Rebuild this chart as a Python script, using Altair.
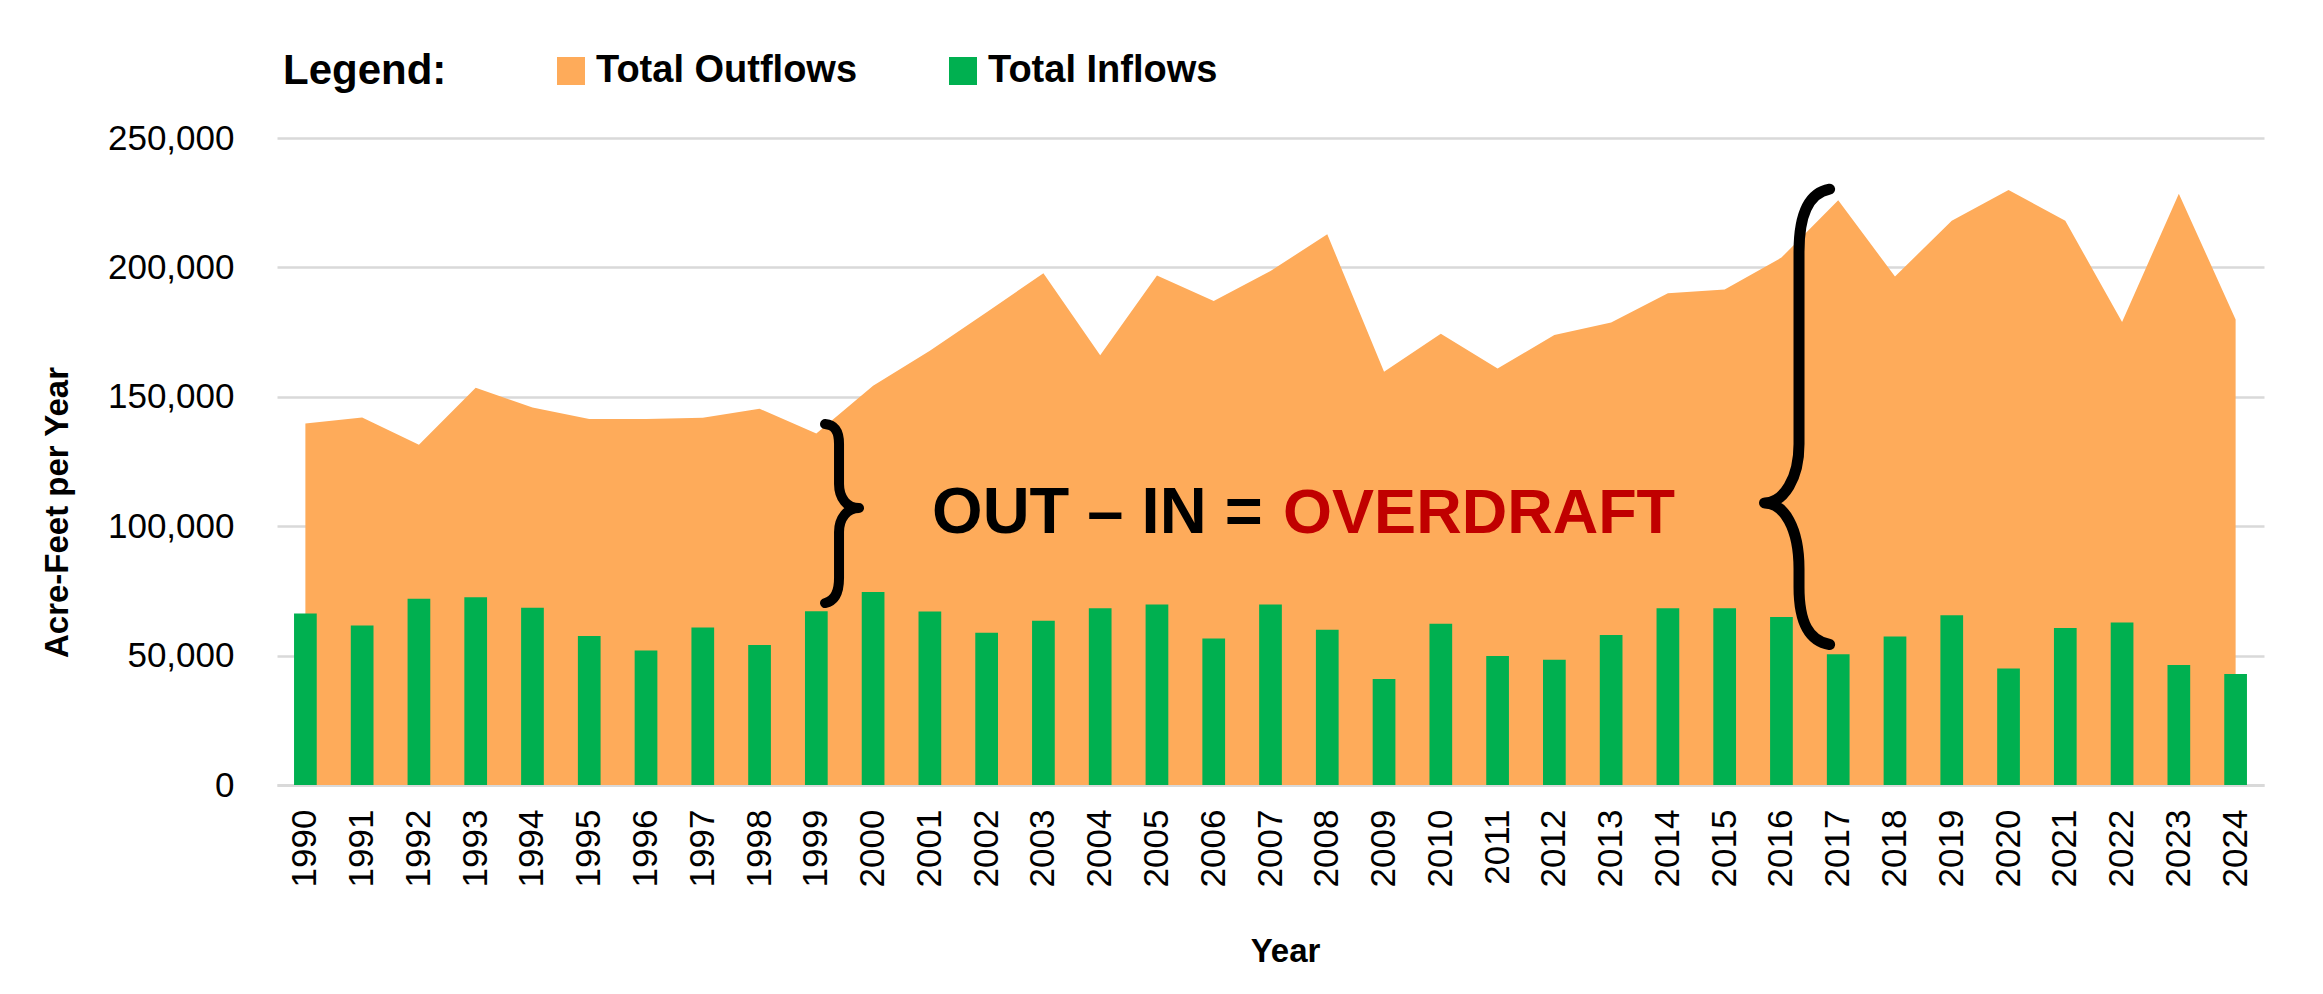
import altair as alt
import pandas as pd

# ---------------- data ----------------
years = [str(y) for y in range(1990, 2025)]
outflows = [139700, 142000, 131500, 153500, 145900, 141400, 141400, 141900, 145400, 135800,
            154300, 167800, 182700, 197700, 166100, 196900, 187000, 198600, 212800, 159700,
            174400, 160900, 173900, 178700, 190000, 191500, 203800, 225900, 196500, 218000,
            229900, 218000, 178900, 228500, 179900]
inflows = [66300, 61600, 72000, 72500, 68500, 57600, 52000, 60900, 54100, 67100,
           74600, 67000, 58800, 63500, 68300, 69700, 56600, 69700, 60000, 41000,
           62300, 49800, 48400, 58000, 68300, 68300, 64900, 50500, 57400, 65600,
           45000, 60700, 62800, 46400, 42900]
series_names = ["Total Outflows", "Total Inflows"]
series_colors = ["#FEAB5A", "#00B050"]
y_ticks = [0, 50000, 100000, 150000, 200000, 250000]

# annotation text and braces (anchored in data space)
annot_parts = ["OUT \u2013 IN = ", "OVERDRAFT"]
annot_colors = ["#000000", "#C00000"]
annot_year = ["2000"]
annot_value = [97400]
brace_years = ["1999", "2017"]
brace_values = [107000, 109000]

df = pd.DataFrame({"year": years, "outflow": outflows, "inflow": inflows})

FONT = "Liberation Sans, Arial, sans-serif"

x_scale = alt.Scale(domain=years, paddingInner=0.6, paddingOuter=0.3)
y_scale = alt.Scale(domain=[0, 250000], nice=False)

x_axis = alt.Axis(
    title="Year", labelAngle=270, labelFont=FONT, labelFontSize=35, labelColor="#000000",
    labelPadding=24, ticks=False, grid=False, domainColor="#D9D9D9", domainWidth=3,
    titleFont=FONT, titleFontSize=33, titleFontWeight="bold", titleColor="#000000",
    titleX=1008, titleY=176, titleBaseline="alphabetic",
)
y_axis = alt.Axis(
    title="Acre-Feet per Year", values=y_ticks, format=",d", labelFont=FONT, labelFontSize=35,
    labelColor="#000000", labelPadding=43, ticks=False, domain=False,
    gridColor="#D9D9D9", gridWidth=2.5,
    titleFont=FONT, titleFontSize=33, titleFontWeight="bold", titleColor="#000000",
    titleX=-203, titleY=374,
)

legend = alt.Legend(
    title="Legend:", orient="none", legendX=6, legendY=-86, direction="horizontal",
    titleOrient="left", titleFont=FONT, titleFontSize=42, titleFontWeight="bold",
    titleColor="#000000", titlePadding=105, padding=0, titleLimit=0,
    labelFont=FONT, labelFontSize=38, labelFontWeight="bold", labelColor="#000000",
    labelLimit=0, labelOffset=6, columnPadding=86, symbolType="square", symbolSize=784,
    symbolStrokeWidth=0, symbolOpacity=1,
)
color = alt.Color("series:N", scale=alt.Scale(domain=series_names, range=series_colors), legend=legend)

base = alt.Chart(df)

area = base.transform_calculate(series="'Total Outflows'").mark_area(opacity=1).encode(
    x=alt.X("year:O", scale=x_scale, axis=x_axis, bandPosition=0.5),
    y=alt.Y("outflow:Q", scale=y_scale, axis=y_axis),
    color=color,
)

bars = base.transform_calculate(series="'Total Inflows'").mark_bar(opacity=1).encode(
    x=alt.X("year:O", scale=x_scale, axis=x_axis),
    y=alt.Y("inflow:Q", scale=y_scale, axis=y_axis),
    color=color,
)

left_brace_path = ("M -14,-84 C -4,-83 0,-77 0,-64 L 0,-24 C 0,-10 8,0 20,0 "
                   "C 8,0 0,10 0,24 L 0,70 C 0,84 -4,93 -14,95")
right_brace_path = ("M 30.6,-313.7 C 10,-310 0,-290 0,-251 L 0,-59 C 0,-25 -15,0 -34.5,0 "
                    "C -15,0 0,25 0,66 L 0,84 C 0,120 10,138 30.6,141.6")

brace_df = pd.DataFrame({"year": brace_years, "value": brace_values})

brace1 = alt.Chart(brace_df.iloc[[0]]).mark_point(
    shape=left_brace_path, size=4, filled=False, stroke="#000000", strokeWidth=10,
    opacity=1, xOffset=22.7, strokeCap="round", strokeJoin="round",
).encode(
    x=alt.X("year:O", scale=x_scale, axis=x_axis),
    y=alt.Y("value:Q", scale=y_scale, axis=y_axis),
)
brace2 = alt.Chart(brace_df.iloc[[1]]).mark_point(
    shape=right_brace_path, size=4, filled=False, stroke="#000000", strokeWidth=11,
    opacity=1, xOffset=-39.2, strokeCap="round", strokeJoin="round",
).encode(
    x=alt.X("year:O", scale=x_scale, axis=x_axis),
    y=alt.Y("value:Q", scale=y_scale, axis=y_axis),
)

text_df1 = pd.DataFrame({"year": annot_year, "value": annot_value, "label": [annot_parts[0]]})
text_df2 = pd.DataFrame({"year": annot_year, "value": annot_value, "label": [annot_parts[1]]})

text1 = alt.Chart(text_df1).mark_text(
    align="left", baseline="alphabetic", dx=59, font=FONT, fontSize=65, fontWeight="bold",
    color=annot_colors[0],
).encode(
    x=alt.X("year:O", scale=x_scale, axis=x_axis),
    y=alt.Y("value:Q", scale=y_scale, axis=y_axis),
    text="label:N",
)
text2 = alt.Chart(text_df2).mark_text(
    align="left", baseline="alphabetic", dx=410, font=FONT, fontSize=63, fontWeight="bold",
    color=annot_colors[1],
).encode(
    x=alt.X("year:O", scale=x_scale, axis=x_axis),
    y=alt.Y("value:Q", scale=y_scale, axis=y_axis),
    text="label:N",
)

chart = alt.layer(area, bars, brace1, brace2, text1, text2).properties(
    width=1987, height=647,
    padding={"left": 269, "top": 130, "right": 50, "bottom": 190},
    autosize=alt.AutoSizeParams(type="none"),
    background="#FFFFFF",
).configure_view(stroke=None)

chart.save("out.html", embed_options={"renderer": "svg", "actions": False})
